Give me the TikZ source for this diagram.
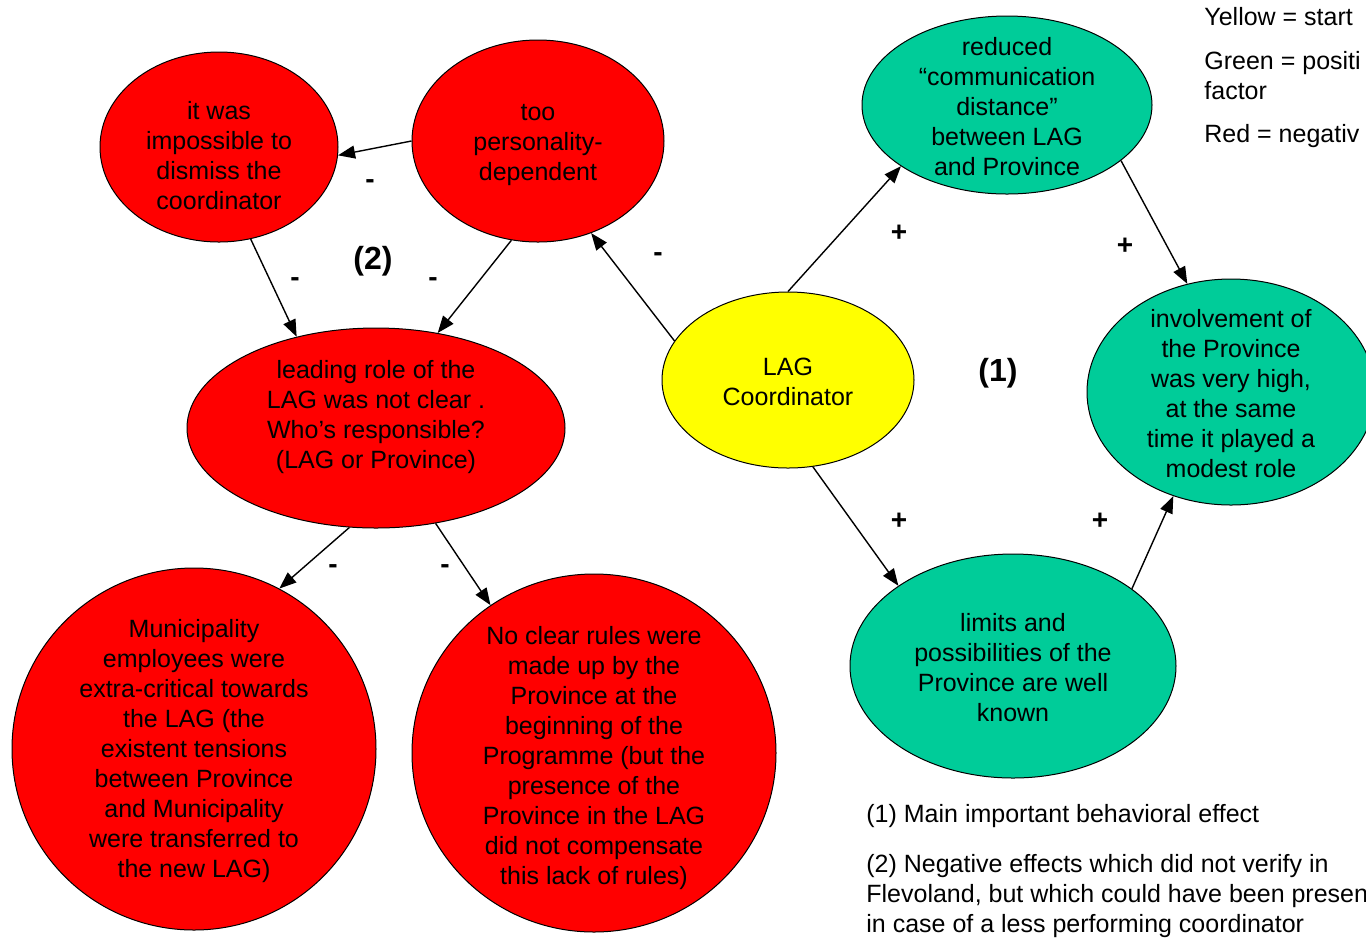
\documentclass[tikz,border=0pt]{standalone}
\usepackage{fontspec}
\setmainfont{Liberation Sans}
\usetikzlibrary{shapes.geometric,arrows.meta}
\definecolor{cred}{HTML}{FF0000}
\definecolor{cyel}{HTML}{FFFF00}
\definecolor{cgrn}{HTML}{00CC99}
\begin{document}
\begin{tikzpicture}[x=0.5pt,y=-0.5pt,
  ell/.style={ellipse,draw=black,line width=0.5pt,inner sep=0pt},
  redell/.style={ell,fill=cred},
  yelell/.style={ell,fill=cyel},
  grnell/.style={ell,fill=cgrn},
  body/.style={font=\fontsize{12.5}{15}\selectfont,align=center,inner sep=0pt},
  txt/.style={font=\fontsize{12.5}{15}\selectfont,align=left,anchor=west,inner sep=0pt},
  arr/.style={-{Triangle[length=8.5pt,width=6.5pt]},line width=0.7pt},
  sign/.style={font=\fontsize{14}{16}\bfseries\selectfont,inner sep=0pt},
  num/.style={font=\fontsize{16}{18}\bfseries\selectfont,inner sep=0pt}]
\useasboundingbox (0,0) rectangle (1366,939);
\fill[white] (0,0) rectangle (1366,939);

% ellipses
\node[redell,minimum width=119pt,minimum height=95pt] (imp) at (219,147) {};
\node[redell,minimum width=126pt,minimum height=101pt] (tp) at (538,141) {};
\node[redell,minimum width=189pt,minimum height=100pt] (lead) at (376,428) {};
\node[redell,minimum width=182pt,minimum height=181pt] (mun) at (194,749) {};
\node[redell,minimum width=182pt,minimum height=179pt] (rules) at (594,753) {};
\node[yelell,minimum width=126pt,minimum height=88pt] (lag) at (788,380) {};
\node[grnell,minimum width=145pt,minimum height=89pt] (red) at (1007,105) {};
\node[grnell,minimum width=144pt,minimum height=113pt] (inv) at (1231,392) {};
\node[grnell,minimum width=163pt,minimum height=112pt] (lim) at (1013,666) {};

% texts
\node[body] (impt) at (219,156) {it was\\impossible to\\dismiss the\\coordinator};
\node[body] (tpt) at (538,145) {too\\personality-\\dependent};
\node[body] (leadt) at (376,417) {leading role of the\\LAG was not clear .\\Who’s responsible?\\(LAG or Province)};
\node[body] (munt) at (194,751) {Municipality\\employees were\\extra-critical towards\\the LAG (the\\existent tensions\\between Province\\and Municipality\\were transferred to\\the new LAG)};
\node[body] (rulest) at (594,758) {No clear rules were\\made up by the\\Province at the\\beginning of the\\Programme (but the\\presence of the\\Province in the LAG\\did not compensate\\this lack of rules)};
\node[body] (lagt) at (788,382) {LAG\\Coordinator};
\node[body] (redt) at (1007,107) {reduced\\“communication\\distance”\\between LAG\\and Province};
\node[body] (invt) at (1231,394) {involvement of\\the Province\\was very high,\\at the same\\time it played a\\modest role};
\node[body] (limt) at (1013,668) {limits and\\possibilities of the\\Province are well\\known};

% connectors
\draw[arr] (tp.180) -- (imp.-4);
\draw[arr] (imp.-71.6) -- (lead.131.6);
\draw[arr] (tp.255.6) -- (lead.57);
\draw[arr] (lag.161) -- (tp.-60.3);
\draw[arr] (lag.90) -- (red.210);
\draw[arr] (red.-26) -- (inv.112.9);
\draw[arr] (lag.-74.2) -- (lim.145);
\draw[arr] (lim.33.9) -- (inv.241.2);
\draw[arr] (lead.255.7) -- (mun.62.7);
\draw[arr] (lead.-58.7) -- (rules.125.5);

% signs
\node[sign] (s1) at (370,184) {-};
\node[sign] (s2) at (295,282) {-};
\node[sign] (s3) at (433,282) {-};
\node[sign] (s4) at (658,257) {-};
\node[sign] (s5) at (899,233) {+};
\node[sign] (s6) at (1125,246) {+};
\node[sign] (s7) at (899,521) {+};
\node[sign] (s8) at (1100,521) {+};
\node[sign] (s9) at (333,569) {-};
\node[sign] (s10) at (445,569) {-};
\node[num] (n2) at (373,261) {(2)};
\node[num] (n1) at (998,373) {(1)};

% legend and notes
\node[txt] (leg1) at (1204,17) {Yellow = start};
\node[txt] (leg2) at (1204,76) {Green = positi\\factor};
\node[txt] (leg3) at (1204,136) {Red = negativ};
\node[txt] (note1) at (866,816) {(1) Main important behavioral effect};
\node[txt] (note2) at (866,896) {(2) Negative effects which did not verify in\\Flevoland, but which could have been presen\\in case of a less performing coordinator};
\end{tikzpicture}
\end{document}
